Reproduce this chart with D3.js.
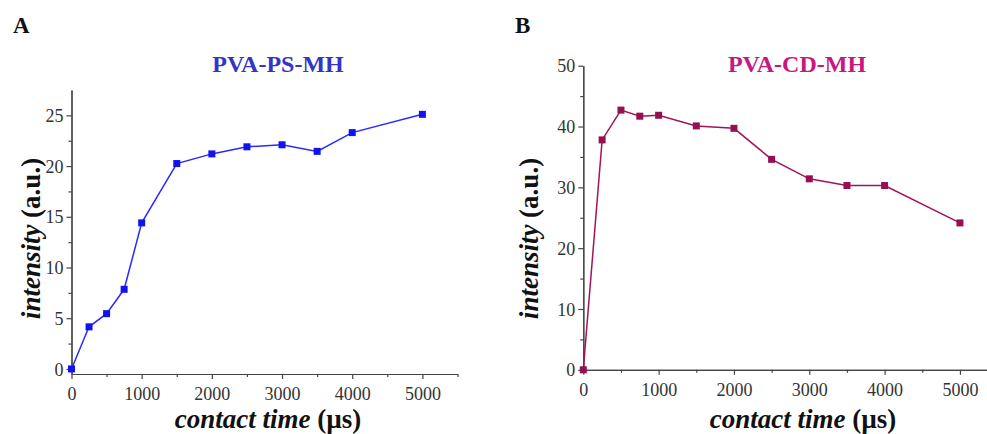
<!DOCTYPE html>
<html>
<head>
<meta charset="utf-8">
<script src="https://cdn.jsdelivr.net/npm/d3@7"></script>
<style>
  html, body { margin: 0; padding: 0; background: #fff; }
  svg { display: block; }
  svg text { font-family: "Liberation Serif", "Times New Roman", Times, serif; }
  .tick text { font-size: 18px; fill: #333; }
  .axis path, .axis line { stroke: #444; stroke-width: 1.2; }
</style>
</head>
<body>
<svg id="chart" width="987" height="434"></svg>
<script>
// Contact time (µs) at which intensity was measured
const contactTime = [0, 250, 500, 750, 1000, 1500, 2000, 2500, 3000, 3500, 4000, 5000];

// Intensity (a.u.) for each film
const intensityPS = [0, 4.15, 5.45, 7.85, 14.4, 20.25, 21.2, 21.9, 22.1, 21.45, 23.3, 25.1];
const intensityCD = [0, 37.8, 42.7, 41.7, 41.85, 40.1, 39.7, 34.6, 31.4, 30.3, 30.3, 24.15];

// Axis ticks
const xTicks = [0, 1000, 2000, 3000, 4000, 5000];
const xMinor = [500, 1500, 2500, 3500, 4500, 5500];
const yTicksPS = [0, 5, 10, 15, 20, 25];
const yMinorPS = [2.5, 7.5, 12.5, 17.5, 22.5];
const yTicksCD = [0, 10, 20, 30, 40, 50];
const yMinorCD = [5, 15, 25, 35, 45];

const svg = d3.select("#chart");

const panels = [
  {
    letter: "A", letterX: 13, title: "PVA-PS-MH", titleColor: "#3434c8",
    values: intensityPS, lineColor: "#2a2aff", markColor: "#1212ee",
    x: d3.scaleLinear().domain([0, 5500]).range([71.5, 457.5]),
    y: d3.scaleLinear().domain([-0.5, 27.5]).range([374, 90]),
    yTicks: yTicksPS, yMinor: yMinorPS,
    yTitleX: 40, xTitleX: 268, titleX: 278
  },
  {
    letter: "B", letterX: 515, title: "PVA-CD-MH", titleColor: "#c8187e",
    values: intensityCD, lineColor: "#a3125a", markColor: "#951050",
    x: d3.scaleLinear().domain([0, 5500]).range([583.3, 997.6]),
    y: d3.scaleLinear().domain([0, 50]).range([369.8, 65.7]),
    yTicks: yTicksCD, yMinor: yMinorCD,
    yTitleX: 538, xTitleX: 803, titleX: 797
  }
];

panels.forEach(p => {
  const g = svg.append("g");
  const [y0] = p.y.range();
  const [x0] = p.x.range();

  // minor ticks
  g.append("g").attr("class", "axis").attr("transform", `translate(0,${y0})`)
    .call(d3.axisBottom(p.x).tickValues(xMinor).tickSize(3).tickSizeOuter(0).tickFormat(""));
  g.append("g").attr("class", "axis").attr("transform", `translate(${x0},0)`)
    .call(d3.axisLeft(p.y).tickValues(p.yMinor).tickSize(3).tickSizeOuter(0).tickFormat(""));

  // major ticks with labels
  const xa = g.append("g").attr("class", "axis").attr("transform", `translate(0,${y0})`)
    .call(d3.axisBottom(p.x).tickValues(xTicks).tickSize(5).tickSizeOuter(0).tickPadding(5).tickFormat(d3.format("d")));
  const ya = g.append("g").attr("class", "axis").attr("transform", `translate(${x0},0)`)
    .call(d3.axisLeft(p.y).tickValues(p.yTicks).tickSize(5).tickSizeOuter(0).tickPadding(3).tickFormat(d3.format("d")));
  xa.attr("font-family", null);
  ya.attr("font-family", null);
  xa.selectAll(".tick text").attr("dy", "0.9em");
  ya.selectAll(".tick text").attr("dy", "0.34em");

  // data line and square markers
  const pts = contactTime.map((t, i) => [p.x(t), p.y(p.values[i])]);
  g.append("path")
    .attr("d", d3.line()(pts))
    .attr("fill", "none")
    .attr("stroke", p.lineColor)
    .attr("stroke-width", 1.5);
  g.selectAll("rect.mk").data(pts).join("rect")
    .attr("class", "mk")
    .attr("x", d => d[0] - 3.5).attr("y", d => d[1] - 3.5)
    .attr("width", 7).attr("height", 7)
    .attr("fill", p.markColor);

  // panel letter
  g.append("text")
    .attr("x", p.letterX).attr("y", 33)
    .attr("font-weight", "bold")
    .attr("font-size", 23).attr("fill", "#111")
    .text(p.letter);

  // panel title
  g.append("text")
    .attr("x", p.titleX).attr("y", 72).attr("text-anchor", "middle")
    .attr("font-weight", "bold")
    .attr("font-size", 24).attr("fill", p.titleColor)
    .text(p.title);

  // x axis title
  const xt = g.append("text")
    .attr("x", p.xTitleX).attr("y", 428).attr("text-anchor", "middle")
    .attr("font-weight", "bold")
    .attr("font-size", 27).attr("fill", "#111");
  xt.append("tspan").attr("font-style", "italic").text("contact time");
  xt.append("tspan").text(" (µs)");

  // y axis title
  const yt = g.append("text")
    .attr("transform", `translate(${p.yTitleX},238.5) rotate(-90)`)
    .attr("text-anchor", "middle")
    .attr("font-weight", "bold")
    .attr("font-size", 27).attr("fill", "#111");
  yt.append("tspan").attr("font-style", "italic").text("intensity");
  yt.append("tspan").text(" (a.u.)");
});
</script>
</body>
</html>
